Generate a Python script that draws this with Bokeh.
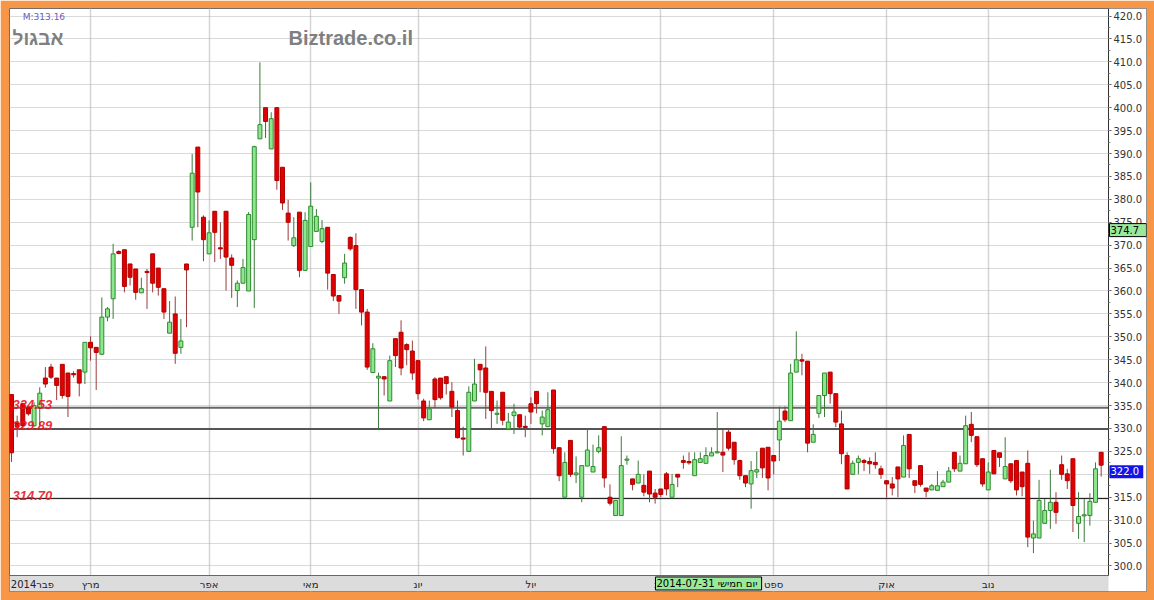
from bokeh.plotting import figure
from bokeh.models import (Range1d, FixedTicker, SingleIntervalTicker, PrintfTickFormatter,
                          Span, Label, ColumnDataSource)
from bokeh.core.properties import value
from bokeh.embed import file_html
from bokeh.resources import INLINE

# ---------------- data ----------------
open_ = [
    337.4, 331.2, 335.4, 334.5, 330.6, 334.6, 341.0, 343.4, 341.0, 344.0,
    342.1, 341.9, 342.8, 342.3, 348.8, 347.7, 346.2, 354.3, 358.3, 368.6,
    369.0, 365.9, 364.8, 359.6, 364.2, 368.1, 365.0, 360.5, 350.8, 355.0,
    347.7, 365.9, 373.9, 391.4, 376.1, 368.1, 377.4, 369.4, 377.4, 367.2,
    360.1, 361.7, 360.0, 371.2, 393.2, 400.0, 391.0, 400.0, 387.0, 377.0,
    369.9, 377.2, 364.5, 369.7, 373.0, 370.8, 373.9, 363.6, 359.0, 362.9,
    371.7, 369.9, 360.3, 355.4, 342.2, 341.0, 341.3, 336.0, 349.6, 351.0,
    348.3, 346.9, 344.8, 336.0, 331.9, 340.8, 341.0, 341.3, 338.1, 333.9,
    327.9, 325.0, 336.0, 344.0, 343.2, 338.1, 333.1, 337.9, 329.9, 332.8,
    333.0, 330.4, 335.4, 338.1, 331.0, 330.4, 338.4, 325.8, 315.0, 327.4,
    319.9, 315.0, 321.8, 320.5, 325.0, 330.4, 315.0, 311.0, 311.0, 323.1,
    319.0, 318.1, 317.6, 320.7, 315.9, 316.8, 320.1, 315.0, 320.0, 323.0,
    322.8, 319.7, 322.6, 322.4, 324.0, 324.7, 324.8, 329.2, 327.0, 323.0,
    319.7, 317.9, 320.5, 325.7, 325.9, 324.1, 327.5, 333.8, 331.7, 342.3,
    345.0, 344.7, 327.0, 333.3, 337.2, 342.3, 337.6, 331.0, 324.1, 320.0,
    322.6, 323.0, 322.8, 322.6, 321.2, 318.6, 317.9, 321.6, 319.4, 328.7,
    318.6, 321.9, 317.0, 316.6, 316.5, 317.3, 318.3, 324.8, 320.7, 322.3,
    330.9, 328.2, 323.4, 316.6, 325.2, 324.7, 319.0, 322.3, 323.0, 320.5,
    322.4, 306.1, 306.1, 309.3, 312.1, 313.9, 322.1, 320.1, 323.4, 309.3,
    311.0, 311.0, 313.9, 324.8,
]
high = [
    337.4, 332.8, 335.4, 335.0, 335.7, 339.0, 343.4, 344.1, 341.0, 344.0,
    342.1, 342.5, 342.8, 348.8, 350.1, 347.7, 358.6, 356.5, 370.3, 368.9,
    369.0, 365.9, 364.8, 362.9, 364.8, 368.1, 365.0, 360.5, 357.8, 358.8,
    353.9, 365.9, 389.9, 391.4, 376.5, 375.4, 377.4, 375.0, 377.4, 368.0,
    362.3, 367.0, 377.2, 391.7, 409.9, 400.0, 399.0, 400.0, 387.0, 379.9,
    376.1, 377.2, 377.2, 383.7, 377.9, 375.5, 373.9, 363.6, 359.0, 368.1,
    371.9, 372.6, 360.3, 356.1, 348.6, 342.2, 341.3, 345.9, 349.6, 353.6,
    348.6, 349.2, 344.8, 336.5, 336.1, 341.2, 341.0, 341.3, 340.1, 336.1,
    330.4, 339.2, 345.2, 344.0, 347.9, 338.1, 336.1, 337.9, 333.4, 335.4,
    333.0, 332.8, 336.8, 338.1, 333.9, 337.9, 338.4, 325.8, 324.8, 327.4,
    323.9, 321.9, 329.9, 326.5, 328.5, 330.4, 317.8, 314.3, 328.3, 324.1,
    319.0, 323.0, 320.0, 320.7, 316.8, 316.8, 320.5, 320.1, 320.0, 324.1,
    324.8, 324.8, 324.8, 325.9, 325.9, 333.6, 329.8, 329.7, 327.0, 323.2,
    319.7, 322.9, 325.0, 325.7, 325.9, 324.1, 334.8, 334.8, 344.1, 351.2,
    346.3, 344.7, 330.9, 337.2, 342.1, 342.3, 337.6, 333.9, 324.8, 323.0,
    324.1, 323.4, 323.7, 324.8, 321.9, 318.6, 319.4, 321.6, 328.5, 328.7,
    318.6, 321.9, 317.0, 317.9, 320.7, 318.8, 321.6, 324.8, 324.1, 332.8,
    333.6, 328.2, 323.4, 322.6, 325.2, 324.7, 328.1, 322.3, 323.0, 320.5,
    325.2, 309.9, 318.8, 314.6, 321.0, 316.1, 324.1, 321.2, 323.4, 316.1,
    314.6, 315.9, 322.6, 324.8,
]
low = [
    322.7, 328.1, 329.9, 332.8, 330.3, 330.3, 338.9, 340.8, 336.2, 336.5,
    332.5, 341.1, 337.0, 339.7, 344.8, 338.4, 346.0, 353.4, 353.9, 368.0,
    359.7, 361.2, 358.1, 359.6, 356.1, 359.7, 359.0, 353.9, 350.8, 344.1,
    346.3, 352.1, 371.0, 373.9, 366.5, 368.1, 366.3, 367.0, 360.1, 358.5,
    356.5, 361.7, 360.0, 356.3, 393.2, 393.4, 391.0, 382.1, 377.7, 371.0,
    369.6, 363.0, 364.5, 369.7, 373.0, 370.4, 360.3, 357.8, 355.0, 361.6,
    368.8, 356.1, 352.5, 342.8, 342.2, 329.9, 337.2, 336.0, 343.4, 341.6,
    343.8, 340.6, 336.3, 331.6, 331.9, 334.5, 336.3, 337.4, 332.5, 327.8,
    324.1, 325.0, 336.0, 337.9, 332.1, 329.9, 331.0, 330.7, 329.7, 328.8,
    329.9, 328.1, 331.0, 333.3, 328.5, 330.4, 324.5, 318.5, 315.0, 319.4,
    318.1, 313.9, 321.8, 320.5, 324.6, 317.1, 313.2, 311.0, 311.0, 322.1,
    316.5, 318.1, 315.2, 313.9, 313.6, 315.0, 315.4, 315.0, 317.2, 321.2,
    322.1, 319.7, 322.6, 322.4, 324.0, 324.6, 320.5, 325.2, 322.1, 318.8,
    317.2, 312.5, 319.2, 319.2, 316.5, 320.0, 322.9, 331.4, 331.7, 342.3,
    341.6, 324.8, 327.0, 332.3, 332.5, 335.4, 330.3, 322.2, 316.8, 320.0,
    320.0, 320.7, 320.1, 321.2, 319.0, 314.9, 315.4, 315.0, 319.4, 319.2,
    315.9, 317.3, 315.0, 316.6, 316.5, 317.3, 318.3, 320.5, 320.7, 322.3,
    327.0, 321.6, 317.3, 316.6, 320.1, 321.6, 319.0, 318.1, 315.4, 315.2,
    304.1, 302.8, 306.1, 309.2, 308.1, 309.2, 318.8, 316.8, 307.4, 305.9,
    305.2, 308.8, 313.9, 319.5,
]
close = [
    324.7, 330.3, 330.6, 333.2, 335.0, 337.7, 339.7, 341.2, 339.4, 337.2,
    337.0, 341.8, 339.9, 348.8, 347.6, 346.6, 354.3, 356.1, 368.1, 368.2,
    361.0, 363.0, 359.7, 360.5, 364.1, 361.7, 360.8, 355.4, 353.2, 346.4,
    349.1, 364.6, 385.7, 381.6, 371.2, 372.7, 372.8, 369.2, 367.4, 365.6,
    361.7, 365.1, 376.7, 391.5, 396.3, 397.0, 397.6, 384.1, 379.2, 375.0,
    371.6, 364.5, 375.4, 378.5, 376.3, 373.6, 363.9, 358.9, 357.8, 366.1,
    369.2, 360.3, 355.4, 343.4, 347.4, 341.4, 340.8, 344.8, 345.9, 343.2,
    347.2, 342.1, 337.6, 332.3, 334.3, 336.3, 336.7, 339.8, 334.7, 328.0,
    327.7, 337.9, 339.7, 342.8, 337.9, 333.9, 333.3, 331.8, 331.4, 333.6,
    330.3, 330.3, 333.6, 335.4, 332.5, 334.1, 325.6, 319.7, 322.6, 320.0,
    320.3, 321.9, 325.3, 321.7, 325.8, 319.2, 313.7, 314.3, 321.9, 323.3,
    317.8, 320.0, 316.1, 315.7, 315.0, 315.6, 316.8, 317.8, 319.4, 322.6,
    322.5, 323.2, 323.4, 324.1, 324.7, 324.9, 324.2, 325.7, 323.2, 319.7,
    318.1, 320.8, 321.0, 321.4, 319.2, 322.9, 331.6, 331.9, 342.1, 345.0,
    344.7, 326.8, 328.7, 337.2, 342.1, 337.6, 331.4, 324.5, 316.8, 322.4,
    323.4, 322.6, 322.3, 322.1, 320.0, 317.9, 317.0, 319.0, 326.3, 321.2,
    317.6, 317.8, 316.3, 317.5, 317.5, 318.3, 320.7, 321.2, 322.4, 330.6,
    328.5, 322.1, 317.9, 320.5, 320.1, 323.7, 321.7, 318.6, 316.6, 317.3,
    306.3, 307.0, 314.3, 312.1, 313.9, 311.7, 320.0, 318.6, 313.2, 310.8,
    311.1, 314.1, 321.2, 322.0,
]

month_ticks = [14, 35, 53, 72, 92, 115, 135, 155, 173]
month_labels = ["מרץ", "אפר", "מאי", "יונ", "יול", "אוג", "ספט", "אוק", "נוב"]
first_label = "2014פבר"
levels = [334.53, 329.89, 314.70]
level_labels = ["334.53", "329.89", "314.70"]
last_price = 322.0
cursor_price = 374.7
cursor_date = "2014-07-31 יום חמישי"
stock_name = "אבגול"
site_name = "Biztrade.co.il"
corner_note = "M:313.16"

# ---------------- layout / styles ----------------
ORANGE = "#F79646"
UP_FILL, UP_LINE, UP_WICK = "#8EE68E", "#2E8B2E", "#3C7A3C"
DN_FILL, DN_LINE, DN_WICK = "#E00000", "#B00000", "#9B3A3A"
FONT = "DejaVu Sans"
NBSP = "\u00a0"

X0, X1 = -0.354, 201.03          # whole inner (white) area
X_AXIS = 194.3                   # where the price axis sits
Y0, Y1 = 294.43, 421.64
Y_BAND = 297.92                  # top of the month band

n = min(len(open_), len(high), len(low), len(close))
xs = list(range(n))
tops, bots, fills, lines, wicks, his, los = [], [], [], [], [], [], []
for o, h, l, c in zip(open_[:n], high[:n], low[:n], close[:n]):
    t, b = max(o, c), min(o, c)
    his.append(max(h, t))
    los.append(min(l, b))
    if t - b < 0.25:
        m = (t + b) / 2.0
        t, b = m + 0.125, m - 0.125
    tops.append(t)
    bots.append(b)
    if c >= o:
        fills.append(UP_FILL); lines.append(UP_LINE); wicks.append(UP_WICK)
    else:
        fills.append(DN_FILL); lines.append(DN_LINE); wicks.append(DN_WICK)

src = ColumnDataSource(dict(x=xs, hi=his, lo=los, top=tops, bottom=bots,
                            fill=fills, line=lines, wick=wicks))

p = figure(width=1154, height=600,
           x_range=Range1d(X0, X1), y_range=Range1d(Y0, Y1),
           y_axis_location="right", output_backend="svg", toolbar_location=None,
           min_border_left=9, min_border_right=8, min_border_top=8, min_border_bottom=9,
           background_fill_color="white", border_fill_color=ORANGE,
           outline_line_color="#6E6E6E", outline_line_width=1)

# grids (covered outside the price area by the panels drawn below)
p.ygrid.ticker = SingleIntervalTicker(interval=5)
p.ygrid.grid_line_color = "#B4B4B4"
p.ygrid.grid_line_dash = "1 1"
p.ygrid.grid_line_width = 1
p.xgrid.ticker = FixedTicker(ticks=month_ticks)
p.xgrid.grid_line_color = "#D4D4D4"
p.xgrid.grid_line_width = 1.5

# level lines
level_colors = ["#666666", "#555555", "#111111"]
level_widths = [2, 2, 1]
for lv, col, w in zip(levels, level_colors, level_widths):
    p.add_layout(Span(location=lv, dimension="width", line_color=col,
                      line_width=w, level="underlay"))

# right white price-axis panel and grey month band
p.quad(left=[X_AXIS], right=[X1], bottom=[Y0], top=[Y1],
       fill_color="white", line_color=None)
p.quad(left=[X0], right=[X_AXIS], bottom=[Y0], top=[Y_BAND],
       fill_color="#DCDCDC", line_color=None)

# right axis drawn at the panel edge
yax = p.yaxis[0]
yax.fixed_location = X_AXIS
yax.bounds = (Y_BAND, Y1)
yax.ticker = SingleIntervalTicker(interval=5, num_minor_ticks=2)
yax.formatter = PrintfTickFormatter(format="%.1f")
yax.axis_line_color = "#333333"
yax.major_tick_out = 3
yax.major_tick_in = 0
yax.minor_tick_out = 2
yax.minor_tick_in = 0
yax.major_tick_line_color = "#555555"
yax.minor_tick_line_color = "#888888"
yax.major_label_text_font = FONT
yax.major_label_text_font_size = "10px"
yax.major_label_text_color = "#333333"
yax.major_label_standoff = 2

# bottom month axis along the band
feb_pos = 3.7
xax = p.xaxis[0]
xax.fixed_location = Y_BAND
xax.bounds = (X0, X_AXIS)
xax.ticker = FixedTicker(ticks=[feb_pos] + month_ticks)
overrides = {feb_pos: first_label}
for t, lab in zip(month_ticks, month_labels):
    overrides[t] = lab
xax.major_label_overrides = overrides
xax.major_tick_out = 0
xax.major_tick_in = 0
xax.minor_tick_out = 0
xax.minor_tick_in = 0
xax.major_tick_line_color = None
xax.minor_tick_line_color = None
xax.axis_line_color = "#666666"
xax.major_label_text_font = FONT
xax.major_label_text_font_size = "10px"
xax.major_label_text_color = "#222222"
xax.major_label_standoff = 3

# candles
p.segment(x0="x", y0="lo", x1="x", y1="hi", line_color="wick", line_width=1, source=src)
p.vbar(x="x", width=0.7, top="top", bottom="bottom", fill_color="fill",
       line_color="line", line_width=1, source=src)

# level labels
p.text(x=[0.18] * len(levels), y=levels, text=level_labels,
       text_font=value("Liberation Sans"), text_font_style="bold italic",
       text_font_size="13px", text_color="#E8141E", text_alpha=0.9,
       text_baseline="alphabetic", text_align="left", y_offset=-3)

# titles inside the chart
p.text(x=[0.18], y=[415.1], text=[stock_name], text_font=value("Liberation Sans"),
       text_font_style="bold", text_font_size="19px", text_color="#808080",
       text_baseline="alphabetic", text_align="left")
p.text(x=[49.06], y=[415.1], text=[site_name], text_font=value("Liberation Sans"),
       text_font_style="bold", text_font_size="20px", text_color="#7F7F7F",
       text_baseline="alphabetic", text_align="left")
p.text(x=[2.0], y=[419.7], text=[corner_note], text_font=value(FONT),
       text_font_size="9px", text_color="#6A5ACD",
       text_baseline="alphabetic", text_align="left")

# price boxes on the right axis
p.add_layout(Label(x=194.47, y=cursor_price, text=f"{cursor_price:.1f}" + NBSP * 2,
                   x_units="data", y_units="data", text_align="left", text_baseline="top",
                   text_font=FONT, text_font_size="10px", text_color="black",
                   background_fill_color="#9AE89A", background_fill_alpha=1.0,
                   border_line_color="black", border_line_width=1, padding=1))
p.add_layout(Label(x=194.47, y=last_price, text=f"{last_price:.1f}" + NBSP,
                   x_units="data", y_units="data", text_align="left", text_baseline="top",
                   text_font=FONT, text_font_size="10px", text_color="white",
                   background_fill_color="#1414E6", background_fill_alpha=1.0,
                   padding=1))
# date box in the month band
p.add_layout(Label(x=114.06, y=296.18, text=cursor_date + NBSP,
                   x_units="data", y_units="data", text_align="left", text_baseline="middle",
                   text_font=FONT, text_font_size="10px", text_color="black",
                   background_fill_color="#9AE89A", background_fill_alpha=1.0,
                   border_line_color="black", border_line_width=1, padding=1))

open("out.html", "w").write(file_html(p, INLINE))
